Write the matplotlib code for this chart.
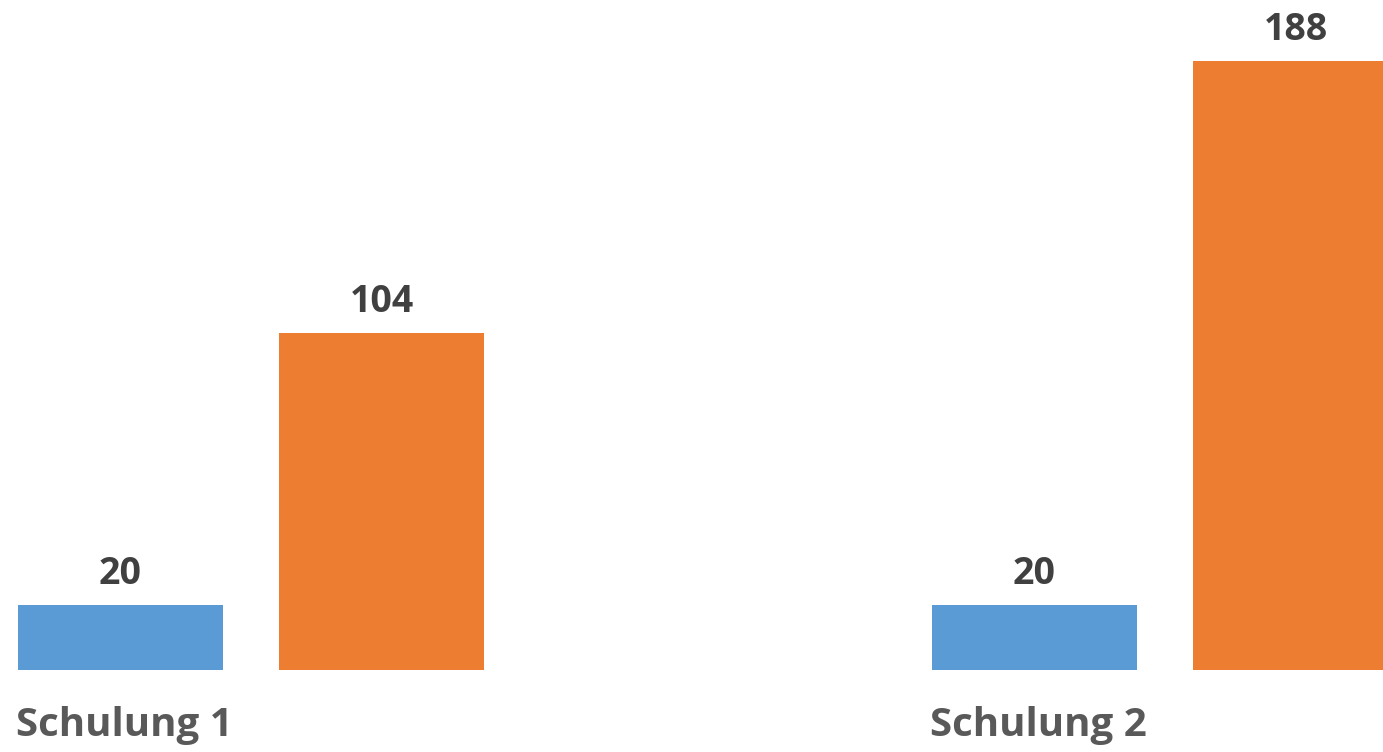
import matplotlib.pyplot as plt
import numpy as np

# Werte aus dem Diagramm
categories = ["Schulung 1", "Schulung 2"]
series_blue = [20, 20]
series_orange = [104, 188]

plt.rcParams["font.family"] = ["Open Sans", "DejaVu Sans"]

fig = plt.figure(figsize=(13.83, 7.52), dpi=100)
ax = fig.add_axes([0, 82 / 752, 1, 670 / 752])

x = np.arange(len(categories))
width = 205 / 914
offset = 261 / 914

bars_b = ax.bar(x, series_blue, width, color="#5B9BD5")
bars_o = ax.bar(x + offset, series_orange, width, color="#ED7D31")

for bars in (bars_b, bars_o):
    for b in bars:
        ax.annotate(f"{b.get_height():.0f}",
                    (b.get_x() + b.get_width() / 2, b.get_height()),
                    xytext=(0, 9), textcoords="offset points",
                    ha="center", va="bottom", fontsize=27,
                    fontweight="bold", color="#404040")

# Kategorienbeschriftung unter den Balken
for xi, name in zip(x, categories):
    ax.text(xi - width / 2 - 2 / 914, -17, name, ha="left", va="center",
            fontsize=29, fontweight="bold", color="#595959", clip_on=False)

ax.set_xlim(-120.5 / 914, (1383 - 120.5) / 914)
ax.set_ylim(0, 670 / 3.2375)
ax.axis("off")

fig.savefig("out.png", dpi=100)
